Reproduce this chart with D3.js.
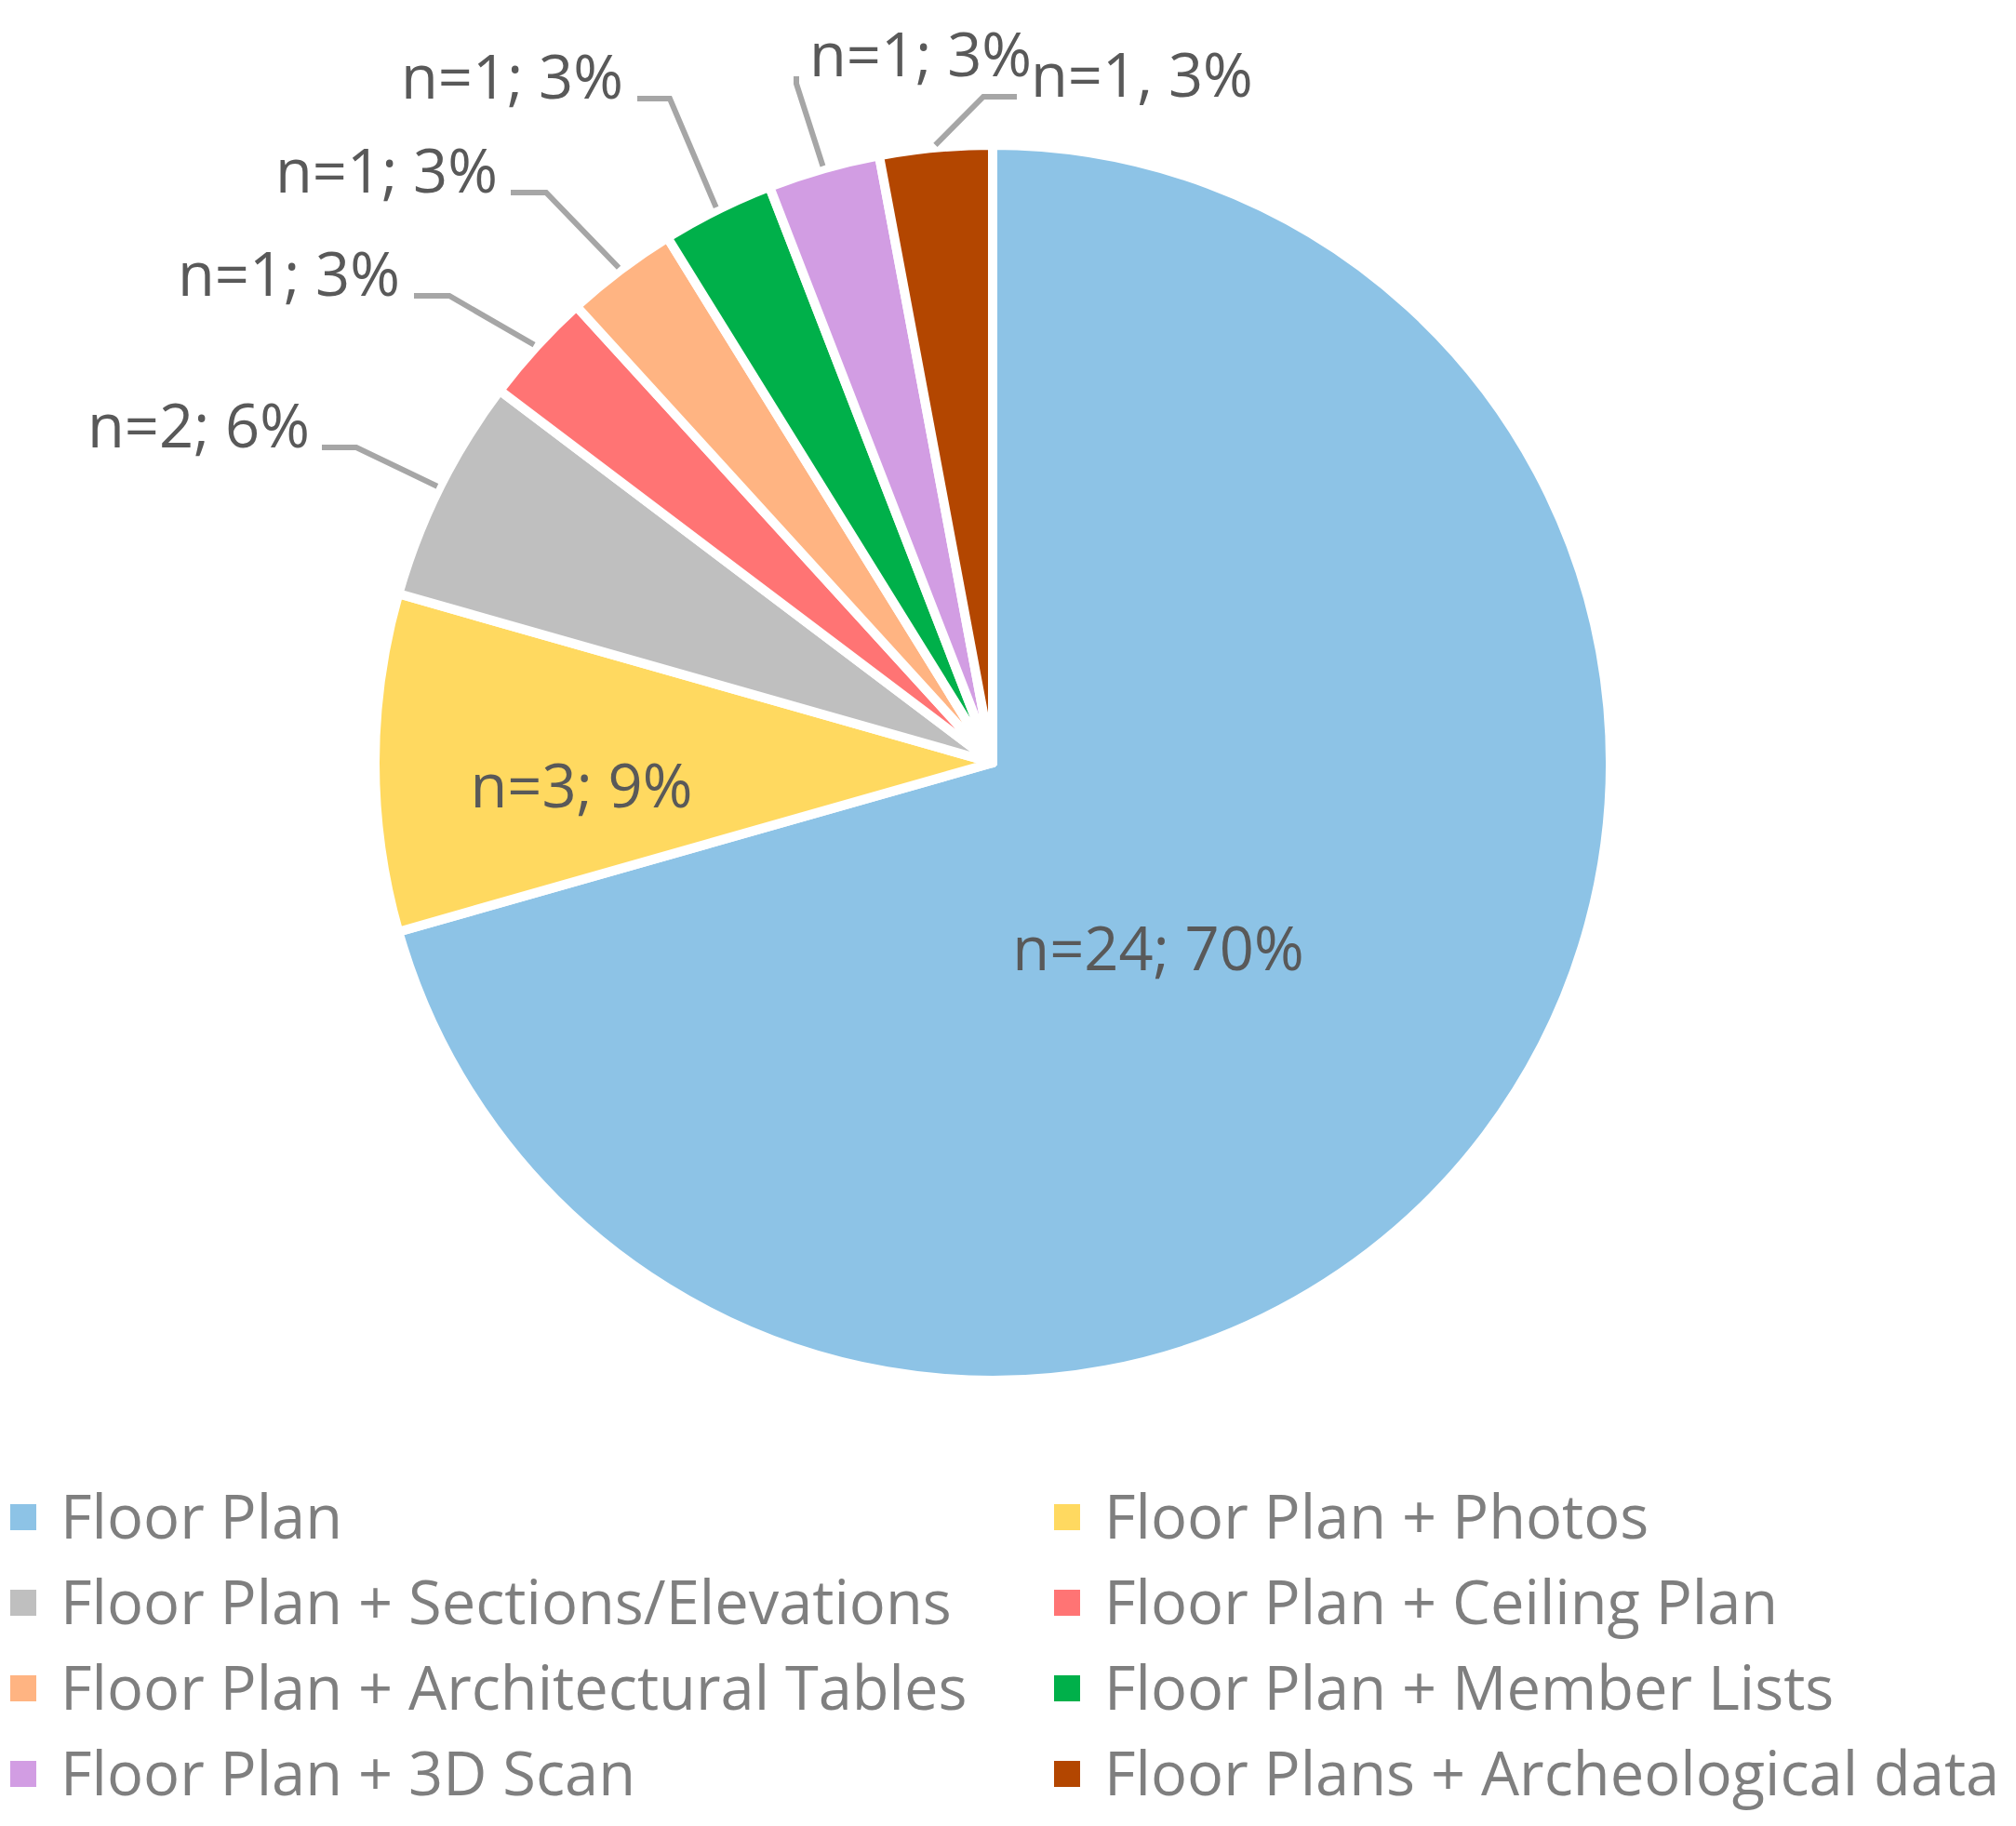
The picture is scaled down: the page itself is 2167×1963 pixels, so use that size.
<!DOCTYPE html>
<html>
<head>
<meta charset="utf-8">
<script src="https://cdn.jsdelivr.net/npm/d3@7"></script>
<style>
	body { margin: 0; background: #fff; }
	svg text { font-family: "Open Sans", sans-serif; }
</style>
</head>
<body>
<svg id="chart" width="2167" height="1963"></svg>
<script>

var categories = [
	"Floor Plan",
	"Floor Plan + Photos",
	"Floor Plan + Sections/Elevations",
	"Floor Plan + Ceiling Plan",
	"Floor Plan + Architectural Tables",
	"Floor Plan + Member Lists",
	"Floor Plan + 3D Scan",
	"Floor Plans + Archeological data"
];

var counts = [ 24, 3, 2, 1, 1, 1, 1, 1 ];

var labels = [
	"n=24; 70%",
	"n=3; 9%",
	"n=2; 6%",
	"n=1; 3%",
	"n=1; 3%",
	"n=1; 3%",
	"n=1; 3%",
	"n=1, 3%"
];

var colors = [ "#8dc3e6", "#ffd960", "#bfbfbf", "#ff7474", "#ffb482", "#00b04a", "#d29de3", "#b34600" ];

// label placement, relative to pie centre: [x, y, anchor, leader x1, leader x2] (null = inside)
var labelLayout = [
	[ 178, 223, "middle", null, null ],
	[ -442, 48, "middle", null, null ],
	[ -734, -339, "end", -721, -684 ],
	[ -637, -502, "end", -622, -584 ],
	[ -532, -613, "end", -518, -480 ],
	[ -397, -714, "end", -382, -347 ],
	[ -197, -738, "start", -211, -211 ],
	[ 41, -716, "start", 26, -10 ]
];

var cx = 1067, cy = 820, r = 664;

var svg = d3.select("#chart");

var g = svg.append("g")
	.attr("transform", `translate(${cx},${cy})`);

var pie = d3.pie().sort(null).value(d => d);
var arcs = pie(counts);

var arc = d3.arc().innerRadius(0).outerRadius(r);
var leadArc = d3.arc().innerRadius(667).outerRadius(667);

g.selectAll(".slice")
	.data(arcs)
	.join("path")
	.attr("class", "slice")
	.attr("d", arc)
	.attr("fill", (d, i) => colors[i])
	.attr("stroke", "#fff")
	.attr("stroke-width", 10)
	.attr("stroke-linejoin", "round");

// leader lines
arcs.forEach( (a, i) => {

	var L = labelLayout[i];

	if(L[3] === null)
		return;

	var end = leadArc.centroid(a);
	var pts = [ [ L[3], L[1] ], [ L[4], L[1] + (L[3] === L[4] ? 8 : 0) ], end ];

	g.append("path")
		.attr("d", d3.line()(pts))
		.attr("fill", "none")
		.attr("stroke", "#a6a6a6")
		.attr("stroke-width", 6);

});

g.selectAll(".dlabel")
	.data(arcs)
	.join("text")
	.attr("class", "dlabel")
	.attr("x", (d, i) => labelLayout[i][0])
	.attr("y", (d, i) => labelLayout[i][1])
	.attr("text-anchor", (d, i) => labelLayout[i][2])
	.attr("font-size", 65)
	.attr("fill", "#595959")
	.text((d, i) => labels[i]);

// legend, two columns
var legend = svg.append("g");

var colX = d3.scaleOrdinal().domain([0, 1]).range([11, 1133]);
var rowY = d3.scaleLinear().domain([0, 3]).range([1654, 1930]);

var items = legend.selectAll(".item")
	.data(categories)
	.join("g")
	.attr("class", "item")
	.attr("transform", (d, i) => `translate(${colX(i % 2)},${rowY(Math.floor(i / 2))})`);

items.append("rect")
	.attr("x", 0)
	.attr("y", -37)
	.attr("width", 28)
	.attr("height", 28)
	.attr("fill", (d, i) => colors[i]);

items.append("text")
	.attr("x", 54)
	.attr("y", 0)
	.attr("font-size", 65)
	.attr("fill", "#7f7f7f")
	.text(d => d);

</script>
</body>
</html>
